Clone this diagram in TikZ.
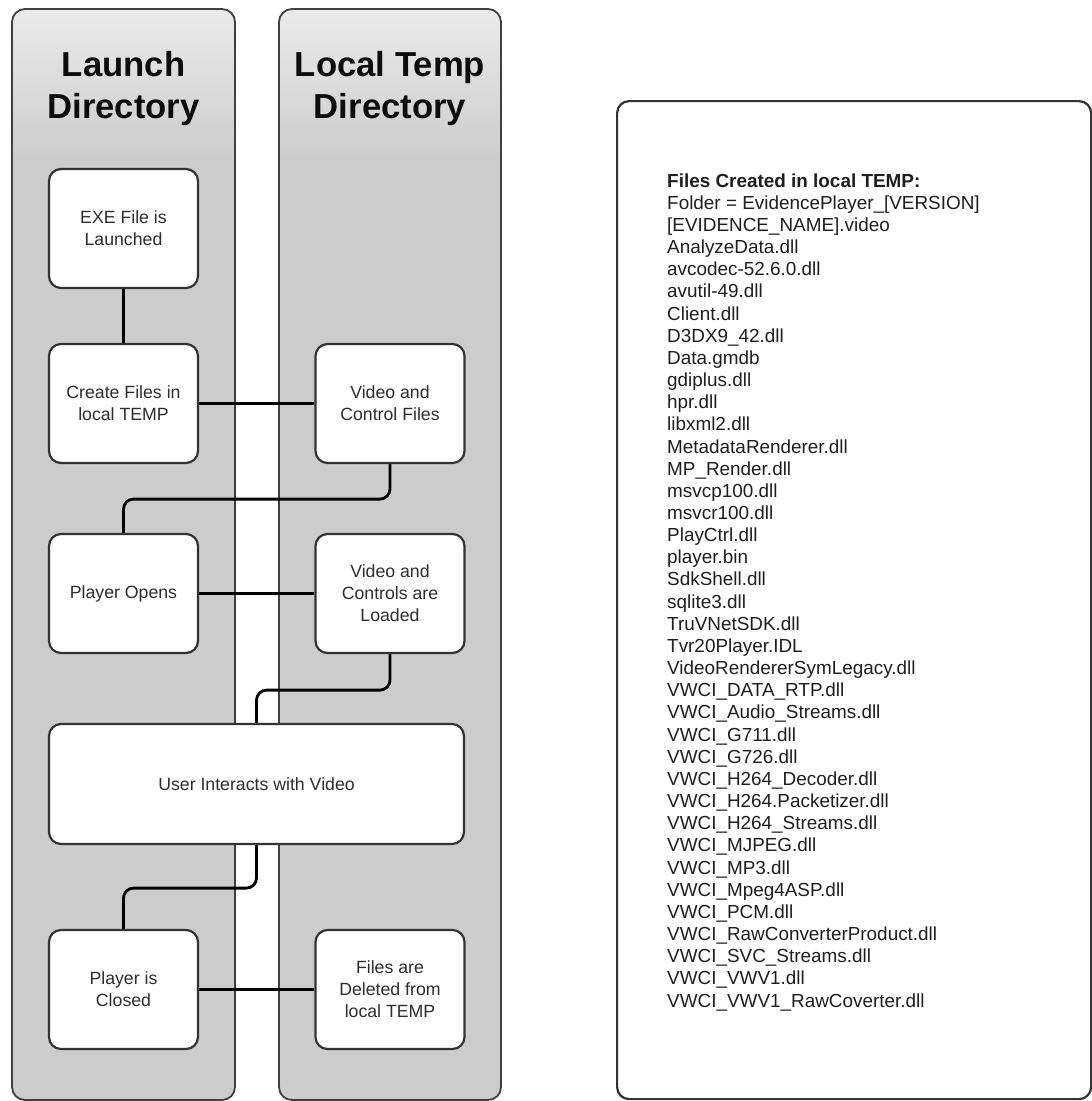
\documentclass[tikz,border=0pt]{standalone}
\usepackage{fontspec}
\setmainfont{Liberation Sans}
\begin{document}
\begin{tikzpicture}[x=1pt,y=-1pt,
  lanebox/.style={draw=black!75,line width=1.8pt,rounded corners=13pt},
  lanehead/.style={font=\fontsize{34.7}{42}\selectfont\bfseries,align=center,inner sep=0pt,anchor=north,text=black!95},
  stepbox/.style={draw=black!80,line width=2.2pt,rounded corners=12pt,fill=white,minimum width=149pt,minimum height=119pt,align=center,font=\fontsize{17.7}{22}\selectfont,text=black!82,inner sep=0pt},
  link/.style={line width=2.8pt,black,rounded corners=10pt}]
\useasboundingbox (0,0) rectangle (1092,1101);
% lanes
\foreach \xa/\xb in {12/235,279/501}{
  \begin{scope}
    \clip[rounded corners=13pt] (\xa,9) rectangle (\xb,1100);
    \fill[black!20] (\xa,9) rectangle (\xb,1100);
    \shade[top color=black!8,bottom color=black!20] (\xa,9) rectangle (\xb,160);
  \end{scope}
  \draw[lanebox] (\xa,9) rectangle (\xb,1100);
}
\node[lanehead] (h1) at (123.5,50.7) {Launch\\Directory};
\node[lanehead] (h2) at (390,50.7) {Local Temp\\Directory};
% steps
\node[stepbox] (exe) at (123.5,228.5) {EXE File is\\Launched};
\node[stepbox] (create) at (123.5,403.5) {Create Files in\\local TEMP};
\node[stepbox] (vcf) at (390,403.5) {Video and\\Control Files};
\node[stepbox] (po) at (123.5,593.5) {Player Opens};
\node[stepbox] (vcl) at (390,593.5) {Video and\\Controls are\\Loaded};
\node[stepbox,minimum width=415pt,minimum height=120pt] (user) at (256.5,784) {User Interacts with Video};
\node[stepbox] (pc) at (123.5,989.5) {Player is\\Closed};
\node[stepbox] (fd) at (390,989.5) {Files are\\Deleted from\\local TEMP};
% links
\draw[link] (exe) -- (create);
\draw[link] (create) -- (vcf);
\draw[link] (vcf.south) -- ++(0,35) -| (po.north);
\draw[link] (po) -- (vcl);
\draw[link] (vcl.south) -- ++(0,36) -| (user.north);
\draw[link] (user.south) -- ++(0,43) -| (pc.north);
\draw[link] (pc) -- (fd);
% files box
\node[draw=black!80,line width=2.2pt,rounded corners=12pt,fill=white,minimum width=474pt,minimum height=998pt,anchor=north west,inner sep=0pt] (filesbox) at (616,100) {};
\node[anchor=north west,inner sep=0pt,align=left,text=black!88,font=\fontsize{18.9}{22.16}\selectfont] (list) at (667,173.2) {%
\textbf{Files Created in local TEMP:}\\
Folder = EvidencePlayer\_{[}VERSION{]}\\
{[}EVIDENCE\_NAME{]}.video\\
AnalyzeData.dll\\
avcodec-52.6.0.dll\\
avutil-49.dll\\
Client.dll\\
D3DX9\_42.dll\\
Data.gmdb\\
gdiplus.dll\\
hpr.dll\\
libxml2.dll\\
MetadataRenderer.dll\\
MP\_Render.dll\\
msvcp100.dll\\
msvcr100.dll\\
PlayCtrl.dll\\
player.bin\\
SdkShell.dll\\
sqlite3.dll\\
TruVNetSDK.dll\\
Tvr20Player.IDL\\
VideoRendererSymLegacy.dll\\
VWCI\_DATA\_RTP.dll\\
VWCI\_Audio\_Streams.dll\\
VWCI\_G711.dll\\
VWCI\_G726.dll\\
VWCI\_H264\_Decoder.dll\\
VWCI\_H264.Packetizer.dll\\
VWCI\_H264\_Streams.dll\\
VWCI\_MJPEG.dll\\
VWCI\_MP3.dll\\
VWCI\_Mpeg4ASP.dll\\
VWCI\_PCM.dll\\
VWCI\_RawConverterProduct.dll\\
VWCI\_SVC\_Streams.dll\\
VWCI\_VWV1.dll\\
VWCI\_VWV1\_RawCoverter.dll};
\end{tikzpicture}
\end{document}
